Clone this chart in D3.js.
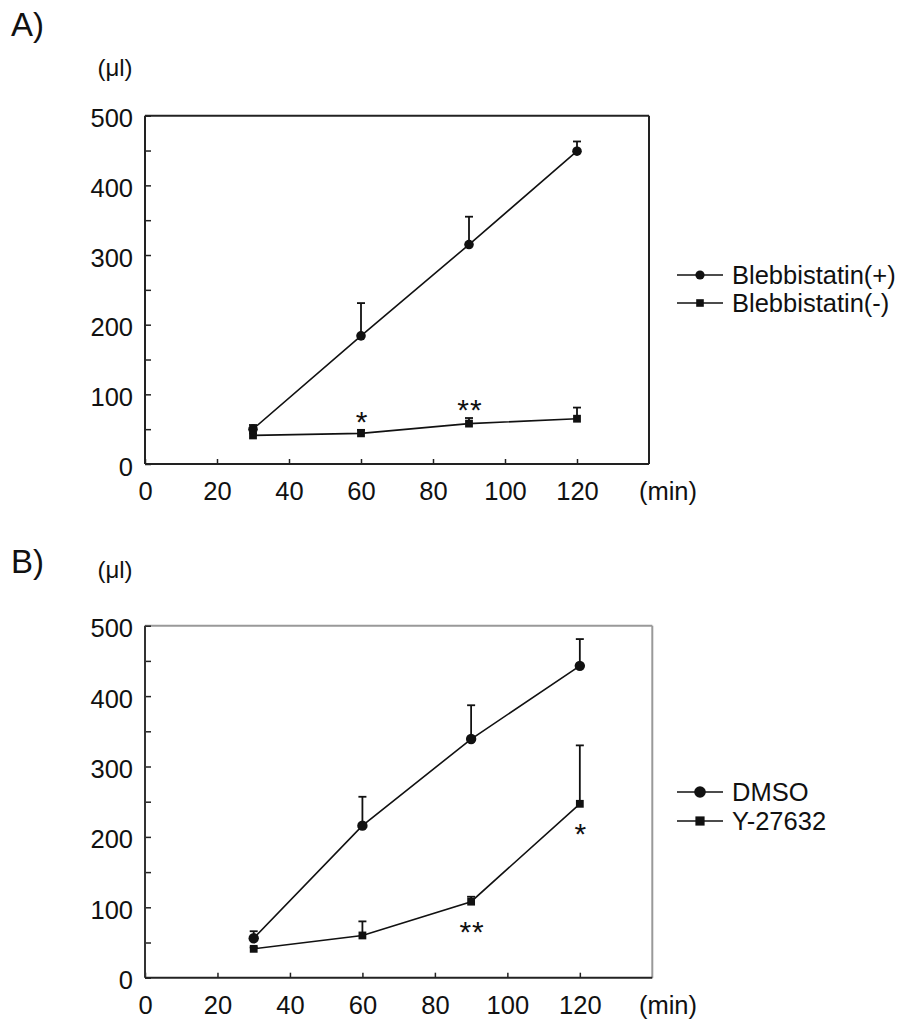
<!DOCTYPE html>
<html>
<head>
<meta charset="utf-8">
<script src="https://cdn.jsdelivr.net/npm/d3@7"></script>
<style>
  body { margin: 0; background: #fff; }
  svg { display: block; }
  text { font-family: "Liberation Sans", Arial, sans-serif; fill: #111; }
</style>
</head>
<body>
<div id="fig"></div>
<script>
// datos
const tiempos = [30, 60, 90, 120];

const blebPos = [50, 184, 315, 449];
const blebPosSd = [6, 47, 40, 14];
const blebNeg = [41, 44, 58, 65];
const blebNegSd = [3, 5, 8, 16];

const dmso = [56, 216, 339, 443];
const dmsoSd = [10, 41, 48, 38];
const y27632 = [41, 60, 108, 247];
const y27632Sd = [2, 20, 7, 83];

const xTicks = [0, 20, 40, 60, 80, 100, 120];
const yTicks = [0, 50, 100, 150, 200, 250, 300, 350, 400, 450, 500];

// asteriscos: [tiempo, texto, lado]
const sigA = [[60, "*", "above"], [90, "**", "above"]];
const sigB = [[90, "**", "below"], [120, "*", "below"]];

const WIDTH = 910;
const HEIGHT = 1022;

const SVG = d3.select("#fig").append("svg")
  .attr("width", WIDTH).attr("height", HEIGHT);

SVG.append("rect").attr("width", WIDTH).attr("height", HEIGHT).attr("fill", "#fff");

const panelA = {
  letra: "A)", letraY: 36, unidadY: 76,
  left: 145, right: 649, top: 115.7, bottom: 464,
  frameTop: "#222", frameLeft: "#222",
  series: [
    { nombre: "Blebbistatin(+)", valores: blebPos, sd: blebPosSd, marca: "circle", r: 4.8 },
    { nombre: "Blebbistatin(-)", valores: blebNeg, sd: blebNegSd, marca: "square", r: 3.9 }
  ],
  sig: sigA, sigSerie: 1,
  legendY: [275, 303], legendR: [4.6, 3.8]
};

const panelB = {
  letra: "B)", letraY: 573, unidadY: 578,
  left: 145, right: 652.3, top: 625.7, bottom: 977.7,
  frameTop: "#999", frameLeft: "#333",
  series: [
    { nombre: "DMSO", valores: dmso, sd: dmsoSd, marca: "circle", r: 5.2 },
    { nombre: "Y-27632", valores: y27632, sd: y27632Sd, marca: "square", r: 3.9 }
  ],
  sig: sigB, sigSerie: 1,
  legendY: [792, 821], legendR: [5.8, 4.6]
};

dibujarPanel(panelA);
dibujarPanel(panelB);

function dibujarPanel(p) {
  const g = SVG.append("g");

  const escalaX = d3.scaleLinear().domain([0, 140]).range([p.left, p.right]);
  const escalaY = d3.scaleLinear().domain([0, 500]).range([p.bottom, p.top]);

  // letra del panel y unidad
  g.append("text").attr("x", 11).attr("y", p.letraY)
    .attr("font-size", 33).text(p.letra);
  g.append("text").attr("x", 115).attr("y", p.unidadY)
    .attr("font-size", 24).attr("text-anchor", "middle").text("(\u03bcl)");

  // marco
  g.append("line").attr("x1", p.left).attr("x2", p.right).attr("y1", p.top).attr("y2", p.top)
    .attr("stroke", p.frameTop).attr("stroke-width", 2);
  g.append("line").attr("x1", p.right).attr("x2", p.right).attr("y1", p.top).attr("y2", p.bottom)
    .attr("stroke", p.frameTop).attr("stroke-width", 2);

  // ejes
  const ejeY = d3.axisLeft(escalaY)
    .tickValues(yTicks)
    .tickSize(-6)
    .tickPadding(12)
    .tickFormat(d => d % 100 === 0 ? d : "");
  const gy = g.append("g").attr("transform", `translate(${p.left},0)`).call(ejeY);
  gy.select(".domain").remove();
  gy.selectAll(".tick line").attr("stroke", "#222").attr("stroke-width", 1.5);
  gy.selectAll(".tick text")
    .attr("font-size", 25.5).attr("font-family", "Liberation Sans, Arial, sans-serif")
    .attr("fill", "#111").attr("dy", null).attr("y", 11);

  const ejeX = d3.axisBottom(escalaX)
    .tickValues(xTicks)
    .tickSize(-5)
    .tickPadding(18);
  const gx = g.append("g").attr("transform", `translate(0,${p.bottom})`).call(ejeX);
  gx.select(".domain").remove();
  gx.selectAll(".tick line").attr("stroke", "#222").attr("stroke-width", 1.5);
  gx.selectAll(".tick text")
    .attr("font-size", 25.5).attr("font-family", "Liberation Sans, Arial, sans-serif")
    .attr("fill", "#111");

  g.append("line").attr("x1", p.left).attr("x2", p.left).attr("y1", p.top).attr("y2", p.bottom)
    .attr("stroke", p.frameLeft).attr("stroke-width", 2);
  g.append("line").attr("x1", p.left).attr("x2", p.right).attr("y1", p.bottom).attr("y2", p.bottom)
    .attr("stroke", "#222").attr("stroke-width", 2);

  g.append("text").attr("x", 668).attr("y", p.bottom + 36)
    .attr("font-size", 25.5).attr("text-anchor", "middle").text("(min)");

  // series
  p.series.forEach(s => {
    const datos = tiempos.map((t, i) => ({ t: t, v: s.valores[i], sd: s.sd[i] }));

    const linea = d3.line().x(d => escalaX(d.t)).y(d => escalaY(d.v));
    g.append("path").datum(datos)
      .attr("fill", "none").attr("stroke", "#111").attr("stroke-width", 1.6)
      .attr("d", linea);

    // barras de error (solo hacia arriba)
    g.selectAll(null).data(datos).join("line")
      .attr("x1", d => escalaX(d.t)).attr("x2", d => escalaX(d.t))
      .attr("y1", d => escalaY(d.v)).attr("y2", d => escalaY(d.v + d.sd))
      .attr("stroke", "#111").attr("stroke-width", 1.8);
    g.selectAll(null).data(datos).join("line")
      .attr("x1", d => escalaX(d.t) - 4).attr("x2", d => escalaX(d.t) + 4)
      .attr("y1", d => escalaY(d.v + d.sd)).attr("y2", d => escalaY(d.v + d.sd))
      .attr("stroke", "#111").attr("stroke-width", 1.8);

    dibujarMarca(g, datos.map(d => [escalaX(d.t), escalaY(d.v)]), s.marca, s.r);
  });

  // asteriscos
  const serieSig = p.series[p.sigSerie];
  p.sig.forEach(([t, txt, lado]) => {
    const i = tiempos.indexOf(t);
    const cx = escalaX(t);
    const cy = lado === "above"
      ? escalaY(serieSig.valores[i] + serieSig.sd[i]) - 16
      : escalaY(serieSig.valores[i]) + 22;
    g.append("text").attr("x", cx + 1).attr("y", cy + 18)
      .attr("font-size", 30).attr("text-anchor", "middle")
      .attr("font-family", "DejaVu Sans, sans-serif")
      .attr("letter-spacing", 1)
      .attr("fill", "#444").text(txt);
  });

  // leyenda
  p.series.forEach((s, i) => {
    const ly = p.legendY[i];
    g.append("line").attr("x1", 677).attr("x2", 723).attr("y1", ly).attr("y2", ly)
      .attr("stroke", "#111").attr("stroke-width", 1.6);
    dibujarMarca(g, [[700, ly]], s.marca, p.legendR[i]);
    g.append("text").attr("x", 732).attr("y", ly + 9)
      .attr("font-size", 25.5).text(s.nombre);
  });
}

function dibujarMarca(g, puntos, tipo, r) {
  if (tipo === "circle") {
    g.selectAll(null).data(puntos).join("circle")
      .attr("cx", d => d[0]).attr("cy", d => d[1]).attr("r", r).attr("fill", "#111");
  } else {
    g.selectAll(null).data(puntos).join("rect")
      .attr("x", d => d[0] - r).attr("y", d => d[1] - r)
      .attr("width", 2 * r).attr("height", 2 * r).attr("fill", "#111");
  }
}
</script>
</body>
</html>
